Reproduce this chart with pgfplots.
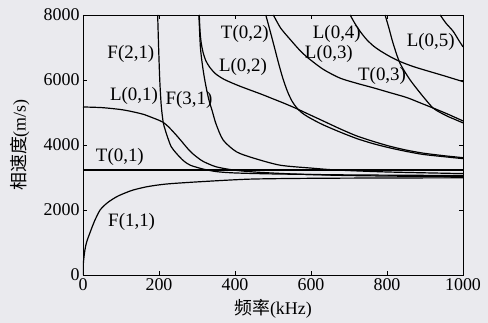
\documentclass[border=0pt]{standalone}
\usepackage{pgfplots}
\pgfplotsset{compat=1.18}
\usepackage{fontspec}
\setmainfont{Liberation Serif}
\newfontfamily\cjk{Noto Sans CJK SC}
\definecolor{bg}{RGB}{234,234,238}
\begin{document}
\begin{tikzpicture}
\fill[bg] (-83bp,-48bp) rectangle (405bp,275bp);
\begin{axis}[
 at={(0,0)}, anchor=south west,
 scale only axis, width=380bp, height=260bp,
 xmin=0,xmax=1000,ymin=0,ymax=8000,
 xtick={0,200,...,1000}, ytick={0,2000,...,8000},
 tick align=inside, major tick length=4bp,
 axis line style={line width=0.7pt},
 every tick/.style={black, line width=0.6pt},
 tick label style={font=\fontsize{18}{18}\selectfont},
 /pgf/number format/assume math mode=true,
 /pgf/number format/1000 sep={},
 scaled ticks=false,
 xlabel={{\cjk 频率}(kHz)}, ylabel={{\cjk 相速度}(m/s)},
 label style={font=\fontsize{18}{18}\selectfont},
 xlabel style={at={(axis description cs:0.5,-0.13)}, anchor=center},
 ylabel style={at={(axis description cs:-0.166,0.5)}, anchor=center},
 cycle list={{black, solid}},
 no markers,
 every axis plot post/.append style={black, solid, line width=1.2pt, smooth, tension=0.45, mark=none},
 clip mode=individual,
]
% T(0,1)
\addplot coordinates {(0,3230) (1000,3230)};
% F(1,1)
\addplot coordinates {(0,0) (1,370) (5,770) (10,1030) (18,1290) (30,1650) (45,2000) (65,2230) (89,2410) (110,2520) (132,2615) (170,2720) (220,2800) (308,2870) (440,2950) (600,2975) (800,2985) (1000,2990)};
% L(0,1)
\addplot coordinates {(0,5170) (50,5150) (100,5090) (132,5020) (160,4940) (185,4830) (200,4760) (211,4700) (225,4560) (238,4400) (251,4230) (264,4050) (277,3870) (290,3720) (303,3600) (317,3490) (350,3330) (396,3230) (450,3170) (550,3110) (700,3060) (1000,3020)};
% F(2,1)
\addplot coordinates {(196.5,8000) (199,7000) (202,6000) (206,5200) (211,4700) (216,4480) (222,4260) (232,3950) (246,3740) (264,3520) (282,3380) (316,3260) (352,3180) (400,3140) (500,3110) (700,3080) (1000,3060)};
% F(3,1)
\addplot coordinates {(305,8000) (309,7000) (315,6400) (322,5900) (331,5400) (340,5050) (350,4650) (369,4150) (404,3790) (448,3600) (518,3380) (600,3290) (668,3230) (800,3170) (1000,3120)};
% L(0,2)
\addplot coordinates {(306,8000) (308,7500) (311,7150) (316,6850) (323,6600) (333,6400) (348,6200) (368,6040) (390,5920) (415,5800) (440,5690) (470,5560) (500,5420) (530,5280) (560,5130) (595,4940) (632,4740) (676,4500) (720,4280) (764,4110) (808,3960) (852,3840) (895,3750) (950,3670) (1000,3610)};
% T(0,2)
\addplot coordinates {(481,8000) (488,7700) (496,7350) (505,6950) (515,6500) (526,6050) (538,5650) (550,5350) (562,5150) (575,5000) (590,4880) (610,4750) (632,4620) (676,4400) (720,4200) (764,4040) (808,3910) (852,3800) (895,3710) (950,3640) (1000,3580)};
% L(0,3)
\addplot coordinates {(501,8000) (520,7600) (545,7250) (570,6920) (590,6700) (632,6330) (676,6060) (720,5900) (764,5760) (808,5610) (852,5460) (895,5260) (921,5140) (960,4950) (1000,4740)};
% T(0,3)
\addplot coordinates {(795,8000) (805,7600) (816,7130) (834,6520) (861,6000) (895,5490) (921,5140) (940,5000) (960,4880) (980,4780) (1000,4680)};
% L(0,4)
\addplot coordinates {(703,8000) (715,7750) (729,7500) (746,7250) (764,7050) (782,6900) (808,6720) (834,6570) (865,6430) (895,6320) (950,6130) (1000,5950)};
% L(0,5)
\addplot coordinates {(940,8000) (955,7750) (974,7500) (990,7200) (1000,7020)};
% labels
\begin{scope}[every node/.style={font=\fontsize{19}{19}\selectfont, inner sep=0pt}]
\node at (axis cs:126,6800) {F(2,1)};
\node at (axis cs:134,5510) {L(0,1)};
\node at (axis cs:279,5380) {F(3,1)};
\node at (axis cs:97,3630) {T(0,1)};
\node at (axis cs:128,1630) {F(1,1)};
\node at (axis cs:426,7410) {T(0,2)};
\node at (axis cs:421,6400) {L(0,2)};
\node at (axis cs:668,7430) {L(0,4)};
\node at (axis cs:647,6800) {L(0,3)};
\node at (axis cs:787,6120) {T(0,3)};
\node at (axis cs:915,7170) {L(0,5)};
\end{scope}
\end{axis}
\end{tikzpicture}
\end{document}
